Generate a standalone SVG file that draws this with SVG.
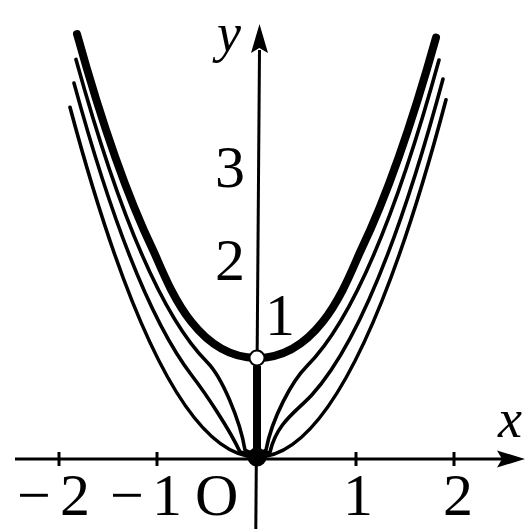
<svg xmlns="http://www.w3.org/2000/svg" width="527" height="529" viewBox="0 0 527 529">
<style>
.ax{stroke:#000;stroke-width:3;fill:none}
.tk{stroke:#000;stroke-width:3}
.thin{stroke:#000;stroke-width:3.6;fill:none;stroke-linecap:round;stroke-linejoin:round}
.thick{stroke:#000;stroke-width:8;fill:none;stroke-linecap:round;stroke-linejoin:round}
.num{font-family:"Liberation Serif","Times New Roman",serif;font-size:60px;fill:#000}
.var{font-family:"Liberation Serif","Times New Roman",serif;font-size:54px;font-style:italic;fill:#000}
</style>
<rect width="527" height="529" fill="#fff"/>
<g id="axes">
<line class="ax" x1="15" y1="459" x2="502" y2="459"/>
<polygon points="525,459 497,450.5 502,459 497,467.5" fill="#000"/>
<line class="ax" x1="259.5" y1="50" x2="255.8" y2="529"/>
<polygon points="259.5,24 251,53 259.3,48 268,53" fill="#000"/>
<line class="tk" x1="59" y1="452" x2="59" y2="466"/>
<line class="tk" x1="157" y1="452" x2="157" y2="466"/>
<line class="tk" x1="356" y1="452" x2="356" y2="466"/>
<line class="tk" x1="454" y1="452" x2="454" y2="466"/>
</g>
<g id="curves">
<path id="c1" class="thin" d="M70,107.3 Q163.5,457 257,457 Q351.5,457 446,99.8"/>
<path id="c2-left" class="thin" d="M257,456 L240,452 C230,430 206,394 192,375.75 Q133,299 74,83.1"/>
<path id="c3-left" class="thin" d="M257,456 L245,450 C240,420 222,377 207,362 Q141.5,296.5 76,59.4"/>
<path id="c2-right" class="thin" d="M257,456 L270,452 C277,422 297,411.25 312,394.75 Q377.5,322.7 443,79"/>
<path id="c3-right" class="thin" d="M257,456 L266,450 C272,418 292,381 307,366 Q373,300 439,60"/>
<path id="limit" class="thick" d="M77,34 Q115,170.8 153,250 C165,275 192,358 257,358 C322,358 349,275 361,250 Q398.5,171.8 436,37.6"/>
<line id="segment" x1="257" y1="457" x2="257" y2="366" stroke="#000" stroke-width="8"/>
</g>
<g id="points">
<circle id="origin-dot" cx="257" cy="457" r="9.5" fill="#000"/>
<circle id="open-point" cx="257" cy="358" r="7.5" fill="#fff" stroke="#000" stroke-width="2"/>
</g>
<g id="labels">
<text class="num" x="17" y="515">−<tspan x="60">2</tspan></text>
<text class="num" x="110" y="515">−<tspan x="152">1</tspan></text>
<text class="num" x="195" y="515">O</text>
<text class="num" x="343" y="515">1</text>
<text class="num" x="443" y="515">2</text>
<text class="num" x="215" y="187">3</text>
<text class="num" x="215" y="280">2</text>
<text class="num" x="265" y="335">1</text>
<text class="var" x="217" y="51">y</text>
<text class="var" x="498" y="437">x</text>
</g>
</svg>
